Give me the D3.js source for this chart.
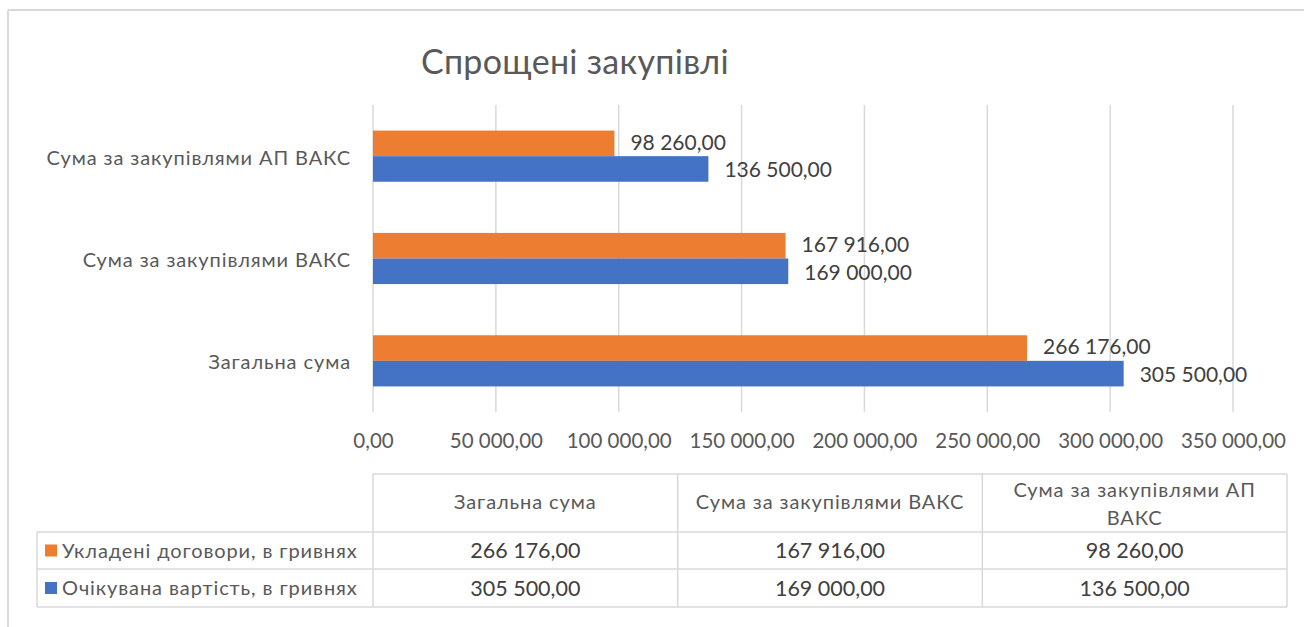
<!DOCTYPE html>
<html>
<head>
<meta charset="utf-8">
<script src="https://cdn.jsdelivr.net/npm/d3@7"></script>
<style>
  body { margin: 0; background: #fff; }
  svg text { font-family: Lato, "Open Sans", sans-serif; }
  .cyr { letter-spacing: 0.9px; }
</style>
</head>
<body>
<svg id="chart" width="1304" height="627"></svg>
<script>
// categories, top to bottom in the plot
const categories = ["Сума за закупівлями АП ВАКС", "Сума за закупівлями ВАКС", "Загальна сума"];
// table column order
const tableCategories = ["Загальна сума", "Сума за закупівлями ВАКС", "Сума за закупівлями АП ВАКС"];
const seriesNames = ["Укладені договори, в гривнях", "Очікувана вартість, в гривнях"];
const seriesColors = ["#ed7d31", "#4472c4"];
// values per series, in tableCategories order
const contracts = [266176, 167916, 98260];
const expected = [305500, 169000, 136500];
const xTicks = [0, 50000, 100000, 150000, 200000, 250000, 300000, 350000];

const svg = d3.select("#chart");
const fmt = d3.formatLocale({ decimal: ",", thousands: " ", grouping: [3], currency: ["", ""] }).format(",.2f");

/* frame */
svg.append("line").attr("x1", 8).attr("x2", 1304).attr("y1", 10).attr("y2", 10)
    .attr("stroke", "#d9d9d9").attr("stroke-width", 2);
svg.append("line").attr("x1", 8).attr("x2", 8).attr("y1", 10).attr("y2", 627)
    .attr("stroke", "#d9d9d9").attr("stroke-width", 2);

/* title */
svg.append("text")
    .attr("x", 575).attr("y", 74)
    .attr("text-anchor", "middle")
    .style("font-size", "34px")
    .style("letter-spacing", "0.3px")
    .style("fill", "#595959")
    .text("Спрощені закупівлі");

/* scales */
const plotTop = 105, plotBottom = 412;
const x = d3.scaleLinear().domain([0, 350000]).range([373, 1233]);
const y = d3.scaleBand().domain(categories).range([plotTop, plotBottom])
    .paddingInner(0.5).paddingOuter(0.25);
const ySub = d3.scaleBand().domain([0, 1]).range([0, y.bandwidth()]);

/* gridlines */
svg.append("g").selectAll("line").data(xTicks).enter().append("line")
    .attr("x1", d => x(d)).attr("x2", d => x(d))
    .attr("y1", plotTop).attr("y2", plotBottom)
    .attr("stroke", "#d9d9d9").attr("stroke-width", 1.5);

/* x axis labels */
const xAxis = d3.axisBottom(x).tickValues(xTicks).tickFormat(fmt).tickSize(0);
const gx = svg.append("g").attr("transform", "translate(0," + 430 + ")").call(xAxis);
gx.select(".domain").remove();
gx.selectAll("text").style("font-size", "20.5px").style("fill", "#595959");

/* y axis labels */
const yAxis = d3.axisLeft(y).tickSize(0).tickPadding(0);
const gy = svg.append("g").attr("transform", "translate(351,2)").call(yAxis);
gy.select(".domain").remove();
gy.selectAll("text").attr("class", "cyr").style("font-size", "20px").style("fill", "#595959");

/* bars */
const barData = [];
tableCategories.forEach((c, i) => {
    barData.push({ cat: c, s: 0, v: contracts[i] });
    barData.push({ cat: c, s: 1, v: expected[i] });
});

svg.append("g").selectAll("rect").data(barData).enter().append("rect")
    .attr("x", x(0))
    .attr("y", d => y(d.cat) + ySub(d.s))
    .attr("width", d => x(d.v) - x(0))
    .attr("height", ySub.bandwidth())
    .style("fill", d => seriesColors[d.s]);

svg.append("g").selectAll("text").data(barData).enter().append("text")
    .attr("x", d => x(d.v) + 16)
    .attr("y", d => y(d.cat) + ySub(d.s) + ySub.bandwidth() / 2 + (d.s === 0 ? -1 : 1))
    .attr("dy", "0.35em")
    .style("font-size", "21px")
    .style("fill", "#404040")
    .text(d => fmt(d.v));

/* data table */
const tableRows = [474, 532, 569, 607];
const col = d3.scaleBand().domain(tableCategories).range([373, 1287]);
const tableLine = "#d9d9d9";
const tbl = svg.append("g").attr("stroke", tableLine).attr("stroke-width", 1.5);

// grid of the table
tbl.append("line").attr("x1", 373).attr("x2", 1287).attr("y1", tableRows[0]).attr("y2", tableRows[0]);
[1, 2, 3].forEach(r => {
    tbl.append("line").attr("x1", 37).attr("x2", 1287).attr("y1", tableRows[r]).attr("y2", tableRows[r]);
});
tbl.append("line").attr("x1", 37).attr("x2", 37).attr("y1", tableRows[1]).attr("y2", tableRows[3]);
tableCategories.forEach(c => {
    tbl.append("line").attr("x1", col(c)).attr("x2", col(c)).attr("y1", tableRows[0]).attr("y2", tableRows[3]);
});
tbl.append("line").attr("x1", 1287).attr("x2", 1287).attr("y1", tableRows[0]).attr("y2", tableRows[3]);

// header texts
const headerG = svg.append("g");
tableCategories.forEach(c => {
    const cx = col(c) + col.bandwidth() / 2;
    const t = headerG.append("text")
        .attr("class", "cyr")
        .attr("text-anchor", "middle")
        .style("font-size", "20px")
        .style("fill", "#595959");
    if (c === "Сума за закупівлями АП ВАКС") {
        t.append("tspan").attr("x", cx).attr("y", 497).text("Сума за закупівлями АП");
        t.append("tspan").attr("x", cx).attr("y", 525).text("ВАКС");
    } else {
        t.attr("x", cx).attr("y", 509).text(c);
    }
});

// legend cells and values
const rowValues = [contracts, expected];
seriesNames.forEach((name, i) => {
    const cy = (tableRows[i + 1] + tableRows[i + 2]) / 2;
    svg.append("rect")
        .attr("x", 45).attr("y", cy - 6).attr("width", 12).attr("height", 12)
        .style("fill", seriesColors[i]);
    svg.append("text")
        .attr("class", "cyr")
        .attr("x", 62).attr("y", cy).attr("dy", "0.35em")
        .style("font-size", "20px").style("fill", "#595959")
        .text(name);
    svg.append("g").selectAll("text").data(rowValues[i]).enter().append("text")
        .attr("x", (d, j) => col(tableCategories[j]) + col.bandwidth() / 2)
        .attr("y", cy).attr("dy", "0.35em")
        .attr("text-anchor", "middle")
        .style("font-size", "21.5px").style("fill", "#404040")
        .text(d => fmt(d));
});
</script>
</body>
</html>
